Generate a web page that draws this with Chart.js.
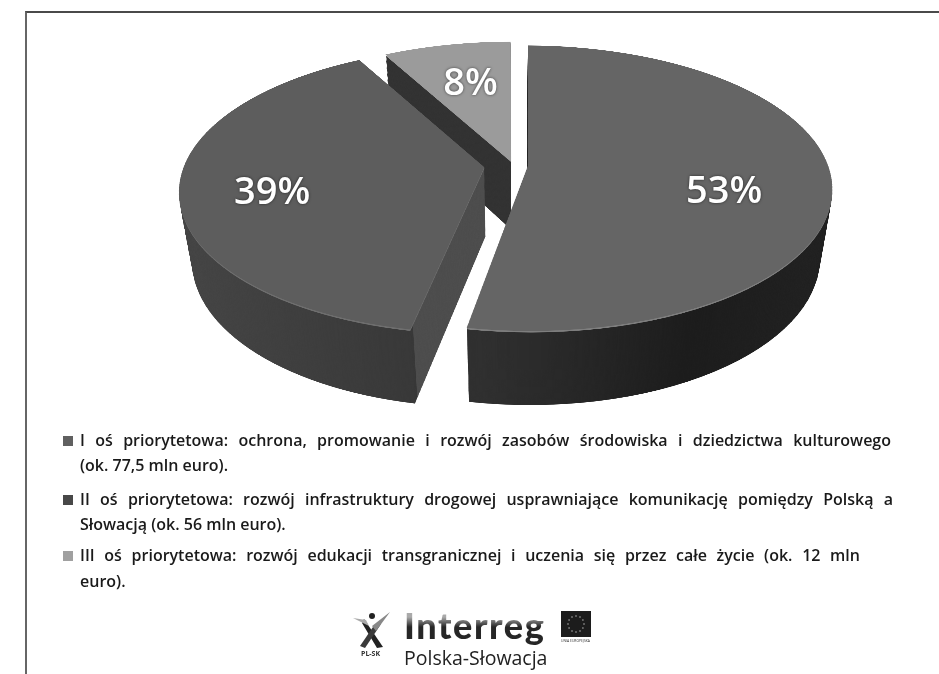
<!DOCTYPE html>
<html lang="pl">
<head>
<meta charset="utf-8">
<title>Osie priorytetowe</title>
<script src="https://cdn.jsdelivr.net/npm/chart.js@4"></script>
<style>
    html, body { margin: 0; padding: 0; background: #fff; }
    #page { position: relative; width: 939px; height: 674px; overflow: hidden; font-family: "Open Sans", sans-serif; color: #1a1a1a; }
    #frame { position: absolute; left: 25px; top: 11px; width: 930px; height: 680px; border-top: 2px solid #4a4a4a; border-left: 2px solid #666; box-sizing: border-box; }
    canvas { position: absolute; left: 0; top: 0; }
    #legend { position: absolute; left: 0; top: 0; }
    .line { position: absolute; left: 80px; font-size: 16px; font-weight: 600; line-height: 20px; white-space: nowrap; text-align: justify; text-align-last: justify; }
    .swatch { position: absolute; left: 63px; width: 10px; height: 10px; }
    #logo-title { position: absolute; left: 404px; top: 603px; font: 900 36px Lato, sans-serif; letter-spacing: 1.6px; color: #2a2a2a; background: linear-gradient(#aaa 14px, #262626 24px); -webkit-background-clip: text; background-clip: text; -webkit-text-fill-color: transparent; }
    #logo-sub { position: absolute; left: 404px; top: 644px; font: 500 19.5px "Open Sans", sans-serif; color: #222; }
    #logo-pl { position: absolute; left: 361px; top: 649px; font: 700 7px "Open Sans", sans-serif; color: #333; }
    #logo-eu { position: absolute; left: 561px; top: 611px; width: 30px; font: 400 3.4px "Open Sans", sans-serif; white-space: nowrap; color: #333; }
    #logo-eu svg { display: block; margin-bottom: 1px; }
    #logo-fig { position: absolute; left: 353px; top: 610px; }
</style>
</head>
<body>
<div id="page">
    <canvas id="pieChart" width="939" height="674"></canvas>
    <div id="frame"></div>
    <div id="legend"></div>
    <svg id="logo-fig" width="38" height="40" viewBox="0 0 38 40">
        <circle cx="19" cy="6" r="3" fill="#222"/>
        <path d="M11 9 L30 37 L24 38 L9 13 Z" fill="#222"/>
        <path d="M28 14 L12 38 L7 36 L20 17 Z" fill="#3a3a3a"/>
        <path d="M37 2 L23 21 L19 16 Z" fill="#888"/>
        <path d="M0 8 L13 10 L16 16 Z" fill="#aaa"/>
    </svg>
    <div id="logo-pl">PL-SK</div>
    <div id="logo-title">Interreg</div>
    <div id="logo-sub">Polska-Słowacja</div>
    <div id="logo-eu">
        <svg id="eu-flag" width="30" height="26" viewBox="0 0 30 26"><rect width="30" height="26" fill="#1c1c1c"/></svg>
        UNIA EUROPEJSKA
    </div>
</div>

<script>
// Share of each priority axis in the programme budget
const categories = ["I oś priorytetowa", "II oś priorytetowa", "III oś priorytetowa"];
const shares = [53, 39, 8];
const legendLines = [
    ["I oś priorytetowa: ochrona, promowanie i rozwój zasobów środowiska i dziedzictwa kulturowego", "(ok. 77,5 mln euro)."],
    ["II oś priorytetowa: rozwój infrastruktury drogowej usprawniające komunikację pomiędzy Polską a", "Słowacją (ok. 56 mln euro)."],
    ["III oś priorytetowa: rozwój edukacji transgranicznej i uczenia się przez całe życie (ok. 12 mln", "euro)."]
];

const topColors = ["#656565", "#5d5d5d", "#9b9b9b"];
const rimColors = ["#7e7e7e", "#6e6e6e", "#9b9b9b"];
const swatchColors = ["#606060", "#484848", "#a0a0a0"];
const sliceOffsets = [58, 118, 40];

// Legend rows: top of line 1, top of line 2, width of line 1
const legendRows = [
    [430, 455, 811],
    [489, 514, 813],
    [545, 571, 780]
];

// Label placement on the top faces
const labelRadius = [0.65, 0.7, 0.6];
const labelNudge = [18, 10, -3];

// Perspective of the tilted pie
const pieRadius = 300;
const horizonY = 165;
const tilt = 139 / pieRadius;
const foreshorten = 0.158 / pieRadius;
const wallHeight = 72;
const wallRecede = 0.04;
const levels = 76;
const superSample = 2;

function wallFill(ctx, arc, i) {
    const x0 = arc.x - pieRadius - 40;
    const x1 = arc.x + pieRadius + 40;
    const g = ctx.createLinearGradient(x0, 0, x1, 0);
    const pos = x => (x - x0) / (x1 - x0);
    if (i === 0) {
        g.addColorStop(0, "#333333");
        g.addColorStop(pos(arc.x - 40), "#303030");
        g.addColorStop(pos(arc.x + 140), "#1d1d1d");
        g.addColorStop(1, "#262626");
    } else if (i === 1) {
        // outer wall up to the front corner, lighter cut face after it
        const corner = pos(arc.x + Math.cos(arc.startAngle) * pieRadius);
        g.addColorStop(0, "#4a4a4a");
        g.addColorStop(corner, "#393939");
        g.addColorStop(corner, "#4e4e4e");
        g.addColorStop(1, "#4e4e4e");
    } else {
        g.addColorStop(0, "#333333");
        g.addColorStop(1, "#333333");
    }
    return g;
}

// Renders one flat arc off screen with the given fill
function renderFlat(off, offCtx, arc, fill) {
    const base = arc.options;
    offCtx.setTransform(1, 0, 0, 1, 0, 0);
    offCtx.clearRect(0, 0, off.width, off.height);
    offCtx.setTransform(superSample, 0, 0, superSample, 0, 0);
    arc.options = Object.assign({}, base, { backgroundColor: fill });
    arc.draw(offCtx);
    arc.options = base;
}

// Copies the flat canvas row by row through the perspective, f is the depth level 0..1
function drawWarped(ctx, off, arc, f, maxY) {
    const b = wallHeight * f;
    const recede = 1 + wallRecede * f;
    const sourceY = v => (v * recede - b) / (tilt + foreshorten * v);
    for (let ys = 0; ys < maxY; ys++) {
        const y0 = sourceY(ys - horizonY);
        const y1 = sourceY(ys + 1 - horizonY);
        if (y1 < -pieRadius - 40 || y0 > pieRadius + 40) continue;
        const w = recede - foreshorten * (y0 + y1) / 2;
        ctx.drawImage(off,
            0, (arc.y + y0) * superSample, off.width, (y1 - y0) * superSample,
            arc.x - arc.x / w, ys, off.width / superSample / w, 1);
    }
}

// Screen position of a point on the top face
function projectTop(arc, x, y) {
    const w = 1 - foreshorten * (y - arc.y);
    return {
        x: arc.x + (x - arc.x) / w,
        y: horizonY + tilt * (y - arc.y) / w
    };
}

const pie3d = {
    id: "pie3d",
    beforeDatasetsDraw(chart) {
        const ctx = chart.ctx;
        const meta = chart.getDatasetMeta(0);
        const off = document.createElement("canvas");
        off.width = chart.width * superSample;
        off.height = chart.height * superSample;
        const offCtx = off.getContext("2d");

        // back to front: III, II, I
        [2, 1, 0].forEach(i => {
            const arc = meta.data[i];
            // the arc grows by part of its offset when drawn, keep all slices the same size
            const fix = 1 - Math.sin(Math.min(Math.PI, arc.circumference));
            arc.outerRadius = pieRadius - arc.options.offset / 4 * fix;
            renderFlat(off, offCtx, arc, wallFill(offCtx, arc, i));
            for (let d = levels; d > 1; d--) {
                drawWarped(ctx, off, arc, d / levels, chart.height);
            }
            renderFlat(off, offCtx, arc, rimColors[i]);
            drawWarped(ctx, off, arc, 1.5 / levels, chart.height);
            renderFlat(off, offCtx, arc, topColors[i]);
            drawWarped(ctx, off, arc, 0, chart.height);
        });

        // percentage labels
        ctx.save();
        ctx.font = "600 38px 'Open Sans', sans-serif";
        ctx.textAlign = "center";
        ctx.textBaseline = "middle";
        ctx.fillStyle = "#fff";
        ctx.shadowColor = "rgba(0,0,0,0.6)";
        ctx.shadowBlur = 3;
        meta.data.forEach((arc, i) => {
            const mid = (arc.startAngle + arc.endAngle) / 2;
            const r = pieRadius * labelRadius[i] + arc.options.offset / 4;
            const p = projectTop(arc, arc.x + Math.cos(mid) * r, arc.y + Math.sin(mid) * r);
            ctx.fillText(shares[i] + "%", p.x, p.y + labelNudge[i]);
        });
        ctx.restore();
        return false;
    }
};

new Chart(document.getElementById("pieChart"), {
    type: "pie",
    data: {
        labels: categories,
        datasets: [{
            data: shares,
            backgroundColor: topColors,
            borderWidth: 0,
            offset: sliceOffsets,
            radius: pieRadius
        }]
    },
    options: {
        responsive: false,
        animation: false,
        layout: { padding: { left: 88, right: 0, top: 0, bottom: 0 } },
        plugins: { legend: { display: false }, tooltip: { enabled: false } }
    },
    plugins: [pie3d]
});

// Legend under the pie
const legend = document.getElementById("legend");
legendLines.forEach((lines, i) => {
    const swatch = document.createElement("div");
    swatch.className = "swatch";
    swatch.style.top = (legendRows[i][0] + 6) + "px";
    swatch.style.background = swatchColors[i];
    legend.appendChild(swatch);

    lines.forEach((text, j) => {
        const row = document.createElement("div");
        row.className = "line";
        row.textContent = text;
        row.style.top = legendRows[i][j] + "px";
        if (j === 0) {
            row.style.width = legendRows[i][2] + "px";
            row.style.whiteSpace = "normal";
        }
        legend.appendChild(row);
    });
});

// Ring of stars on the flag
const flag = document.getElementById("eu-flag");
for (let k = 0; k < 12; k++) {
    const a = k * Math.PI / 6;
    const star = document.createElementNS("http://www.w3.org/2000/svg", "circle");
    star.setAttribute("cx", 15 + Math.cos(a) * 8);
    star.setAttribute("cy", 13 + Math.sin(a) * 8);
    star.setAttribute("r", 0.8);
    star.setAttribute("fill", "#aaa");
    flag.appendChild(star);
}
</script>
</body>
</html>
